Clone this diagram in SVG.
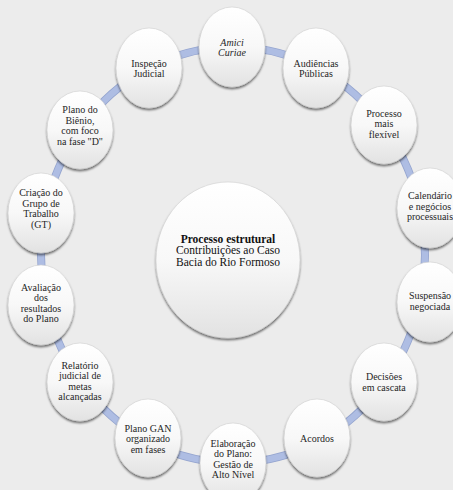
<svg xmlns="http://www.w3.org/2000/svg" width="453" height="490" viewBox="0 0 453 490">
<defs>
<linearGradient id="g" x1="0" y1="0" x2="0" y2="1">
<stop offset="0" stop-color="#ffffff"/>
<stop offset="0.5" stop-color="#f8f8f8"/>
<stop offset="1" stop-color="#e2e2e2"/>
</linearGradient>
<filter id="sh" x="-20%" y="-20%" width="140%" height="150%">
<feDropShadow dx="0" dy="2" stdDeviation="1.3" flood-color="#000" flood-opacity="0.55"/>
</filter>
</defs>
<style>
.n{fill:url(#g);stroke:#d0d0d0;stroke-width:0.6;filter:url(#sh)}
text{font-family:'Liberation Serif','DejaVu Serif',serif}
.t{font-size:10px;fill:#262626;text-anchor:middle}
.c{font-size:11.5px;fill:#111;text-anchor:middle}
</style>
<rect width="453" height="490" fill="#ececec"/>
<g id="connectors">
<ellipse cx="233" cy="255" rx="192" ry="208" fill="none" stroke="#95a5cf" stroke-width="8"/>
<ellipse cx="233" cy="255" rx="192" ry="208" fill="none" stroke="#aebde3" stroke-width="6.4"/>
</g>
<g id="center">
<ellipse class="n" cx="228" cy="260" rx="72" ry="78"/>
<text class="c" font-family="Liberation Serif, serif"><tspan x="228" y="242.5" font-weight="bold">Processo estrutural</tspan><tspan x="228" y="254">Contribuições ao Caso</tspan><tspan x="228" y="265.5">Bacia do Rio Formoso</tspan></text>
</g>
<g id="n1"><ellipse class="n" cx="232" cy="47" rx="33" ry="40"/>
<text class="t" font-family="Liberation Serif, serif" font-style="italic"><tspan x="232" y="45.5">Amici</tspan><tspan x="232" y="56">Curiae</tspan></text></g>
<g id="n2"><ellipse class="n" cx="316" cy="68" rx="33" ry="40"/>
<text class="t" font-family="Liberation Serif, serif"><tspan x="316" y="66.5">Audiências</tspan><tspan x="316" y="77">Públicas</tspan></text></g>
<g id="n3"><ellipse class="n" cx="384" cy="125" rx="33" ry="39"/>
<text class="t" font-family="Liberation Serif, serif"><tspan x="384" y="116.5">Processo</tspan><tspan x="384" y="127">mais</tspan><tspan x="384" y="137.5">flexível</tspan></text></g>
<g id="n4"><ellipse class="n" cx="430" cy="208" rx="33" ry="40"/>
<text class="t" font-family="Liberation Serif, serif"><tspan x="430" y="199">Calendário</tspan><tspan x="430" y="209.5">e negócios</tspan><tspan x="430" y="220">processuais</tspan></text></g>
<g id="n5"><ellipse class="n" cx="430" cy="302" rx="33" ry="40"/>
<text class="t" font-family="Liberation Serif, serif"><tspan x="430" y="299">Suspensão</tspan><tspan x="430" y="309.5">negociada</tspan></text></g>
<g id="n6"><ellipse class="n" cx="384" cy="382" rx="33" ry="39"/>
<text class="t" font-family="Liberation Serif, serif"><tspan x="384" y="380">Decisões</tspan><tspan x="384" y="390.5">em cascata</tspan></text></g>
<g id="n7"><ellipse class="n" cx="317" cy="438" rx="33" ry="39"/>
<text class="t" font-family="Liberation Serif, serif"><tspan x="317" y="441.5">Acordos</tspan></text></g>
<g id="n8"><ellipse class="n" cx="233" cy="463" rx="33" ry="40"/>
<text class="t" font-family="Liberation Serif, serif"><tspan x="233" y="446.8">Elaboração</tspan><tspan x="233" y="457.3">do Plano:</tspan><tspan x="233" y="467.8">Gestão de</tspan><tspan x="233" y="478.3">Alto Nível</tspan></text></g>
<g id="n9"><ellipse class="n" cx="148" cy="438" rx="33" ry="39"/>
<text class="t" font-family="Liberation Serif, serif"><tspan x="148" y="431.5">Plano GAN</tspan><tspan x="148" y="442">organizado</tspan><tspan x="148" y="452.5">em fases</tspan></text></g>
<g id="n10"><ellipse class="n" cx="80" cy="382" rx="33" ry="39"/>
<text class="t" font-family="Liberation Serif, serif"><tspan x="80" y="368.8">Relatório</tspan><tspan x="80" y="379.3">judicial de</tspan><tspan x="80" y="389.8">metas</tspan><tspan x="80" y="400.3">alcançadas</tspan></text></g>
<g id="n11"><ellipse class="n" cx="41" cy="305" rx="33" ry="40"/>
<text class="t" font-family="Liberation Serif, serif"><tspan x="41" y="290.8">Avaliação</tspan><tspan x="41" y="301.3">dos</tspan><tspan x="41" y="311.8">resultados</tspan><tspan x="41" y="322.3">do Plano</tspan></text></g>
<g id="n12"><ellipse class="n" cx="41" cy="213" rx="33" ry="40"/>
<text class="t" font-family="Liberation Serif, serif"><tspan x="41" y="196">Criação do</tspan><tspan x="41" y="206.5">Grupo de</tspan><tspan x="41" y="217">Trabalho</tspan><tspan x="41" y="227.5">(GT)</tspan></text></g>
<g id="n13"><ellipse class="n" cx="80" cy="130" rx="33" ry="39"/>
<text class="t" font-family="Liberation Serif, serif"><tspan x="80" y="113">Plano do</tspan><tspan x="80" y="123.5">Biênio,</tspan><tspan x="80" y="134">com foco</tspan><tspan x="80" y="144.5">na fase "D"</tspan></text></g>
<g id="n14"><ellipse class="n" cx="149" cy="68" rx="33" ry="40"/>
<text class="t" font-family="Liberation Serif, serif"><tspan x="149" y="66.5">Inspeção</tspan><tspan x="149" y="77">Judicial</tspan></text></g>
</svg>
